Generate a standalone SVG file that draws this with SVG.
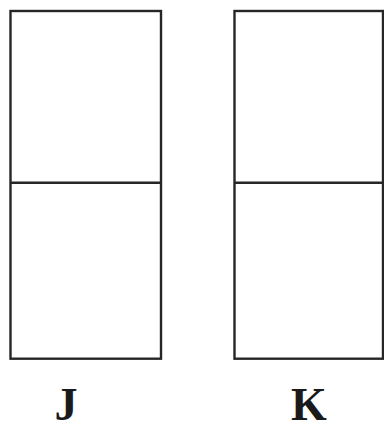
<svg xmlns="http://www.w3.org/2000/svg" width="384" height="431" viewBox="0 0 384 431">
<style>
.box{fill:none;stroke:#262626;stroke-width:2.4}
.lbl{font-family:"Liberation Serif","Times New Roman",serif;font-weight:bold;font-size:46px;fill:#1a1a1a;text-anchor:middle}
</style>
<rect width="384" height="431" fill="#ffffff"/>
<g id="J">
<rect class="box" x="10.5" y="11" width="150.5" height="347.7"/>
<line class="box" x1="10.5" y1="182.7" x2="161" y2="182.7"/>
<text class="lbl" x="66" y="420" font-size="48">J</text>
</g>
<g id="K">
<rect class="box" x="234.5" y="11" width="148.5" height="347.7"/>
<line class="box" x1="234.5" y1="182.7" x2="383" y2="182.7"/>
<text class="lbl" x="309" y="420">K</text>
</g>
<g id="connectors"/>
</svg>
